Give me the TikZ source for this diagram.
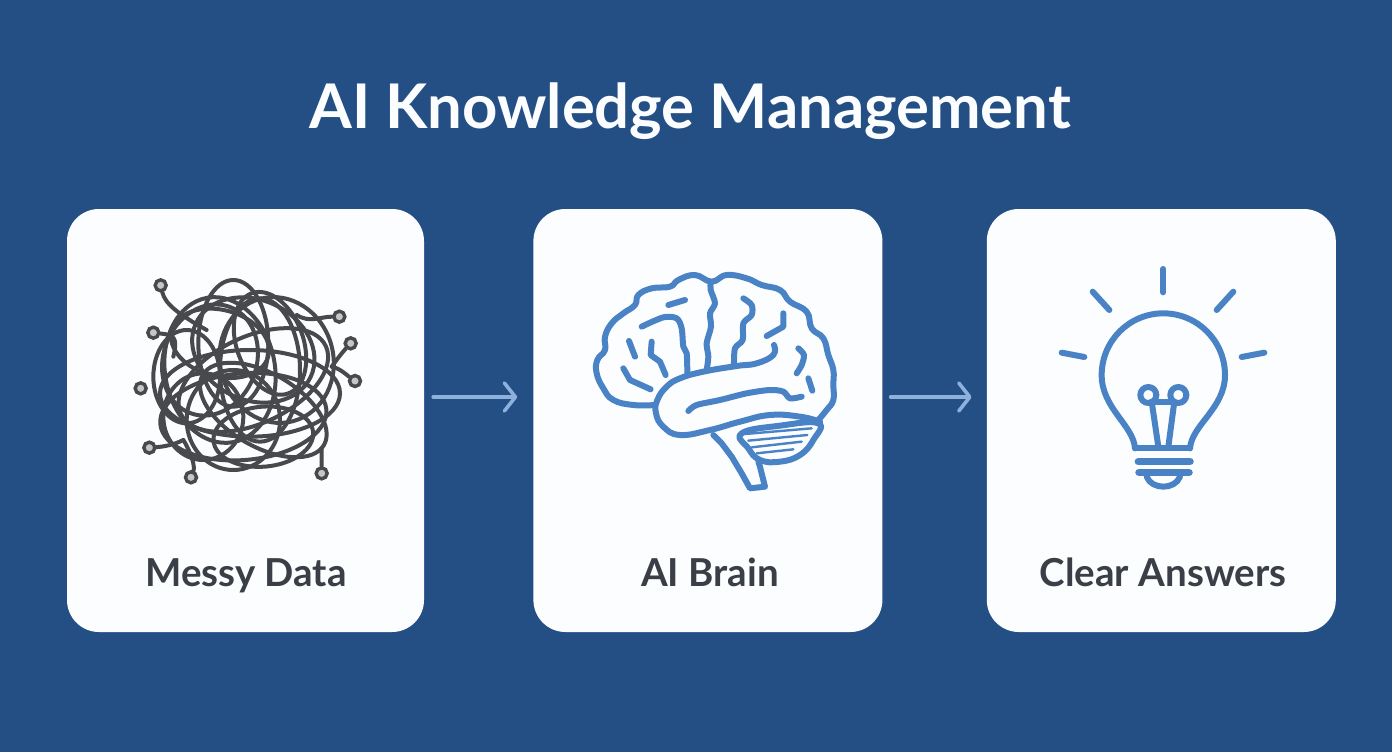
\documentclass[tikz,border=0pt]{standalone}
\usepackage{fontspec}
\setmainfont{Lato}
\usetikzlibrary{positioning}
\usetikzlibrary{arrows.meta}
\definecolor{bgblue}{HTML}{234F85}
\definecolor{cardwhite}{HTML}{FCFDFE}
\definecolor{iconblue}{HTML}{4A83C5}
\definecolor{flowblue}{HTML}{8DB0DC}
\definecolor{tangle}{HTML}{47494D}
\definecolor{inktext}{HTML}{3A3F47}
\tikzset{card/.style={rectangle,fill=cardwhite,rounded corners=32pt,minimum height=423pt,inner sep=0pt}}
\tikzset{cardtext/.style={font=\bfseries\fontsize{38.5}{42}\selectfont,text=inktext,inner sep=0pt,anchor=base}}
\tikzset{flow/.style={draw=flowblue,line width=3.6pt,line cap=round,-{Straight Barb[length=11pt,width=28pt,line width=3.6pt,round]}}}
\tikzset{brainline/.style={draw=iconblue,line width=6pt,line cap=round,line join=round}}
\tikzset{wire/.style={draw=tangle,line width=4pt,line cap=round}}
\tikzset{enddot/.style={circle,draw=tangle,fill=gray!45,line width=3.4pt,minimum size=11pt,inner sep=0pt}}

\begin{document}
\begin{tikzpicture}[x=1pt,y=-1pt]
        \useasboundingbox (0,0) rectangle (1392,752);
        \fill[bgblue] (0,0) rectangle (1392,752);

        \node[font=\bfseries\fontsize{61.6}{70}\selectfont,text=cardwhite,inner sep=0pt,anchor=base] (title) at (690,128) {AI Knowledge Management};

        \node[card,minimum width=357pt] (messycard) at (245.5,420.5) {};
        \node[card,minimum width=349pt,right=109pt of messycard] (braincard) {};
        \node[card,minimum width=349pt,right=104pt of braincard] (clearcard) {};

        \draw[flow,shorten <=9pt,shorten >=16pt] ([yshift=23.5pt]messycard.east) -- ([yshift=23.5pt]braincard.west);
        \draw[flow,shorten <=8pt,shorten >=15pt] ([yshift=23.5pt]braincard.east) -- ([yshift=23.5pt]clearcard.west);

        \node[cardtext] (messylabel) at (246,586) {Messy Data};
        \node[cardtext] (brainlabel) at (710,586) {AI Brain};
        \node[cardtext] (clearlabel) at (1163,586) {Clear Answers};

        \begin{scope}[shift={(120,260)},scale=1/3]
            \foreach \cx/\cy/\rx/\ry/\rot in {340/250/105/190/0,420/330/120/215/0,300/330/165/220/10,390/400/270/130/0,
                370/470/250/130/5,400/360/240/130/25,400/270/190/150/-25,
                430/450/210/110/-30,340/480/140/150/0,450/250/100/160/20,300/250/150/100/-15,
                270/300/140/170/-20,470/300/170/190/15,250/470/120/130/0,
                430/530/150/90/5,200/350/100/140/0}
                \draw[wire,rotate around={\rot:(\cx,\cy)}] (\cx,\cy) ellipse [x radius=\rx,y radius=\ry];
            \node[enddot] (d1) at (122,76) {};
            \node[enddot] (d2) at (100,218) {};
            \node[enddot] (d3) at (62,385) {};
            \node[enddot] (d4) at (88,563) {};
            \node[enddot] (d5) at (213,652) {};
            \node[enddot] (d6) at (605,640) {};
            \node[enddot] (d7) at (705,363) {};
            \node[enddot] (d8) at (692,250) {};
            \node[enddot] (d9) at (658,170) {};
            \draw[wire] (d1) .. controls (135,130) and (170,160) .. (260,210);
            \draw[wire] (d2) .. controls (160,225) and (175,230) .. (160,290);
            \draw[wire] (d4) .. controls (130,560) and (160,555) .. (190,540);
            \draw[wire] (d5) .. controls (225,620) and (215,580) .. (190,540);
            \draw[wire] (d6) -- (605,565);
            \draw[wire] (d7) .. controls (680,345) and (660,325) .. (635,320);
            \draw[wire] (d8) .. controls (660,285) and (650,300) .. (635,320);
            \draw[wire] (d9) .. controls (600,170) and (570,190) .. (530,165);
        \end{scope}

        \begin{scope}[shift={(580,260)},scale=1/3]
            \draw[brainline] plot[smooth,tension=0.75] coordinates {(225,435) (160,435) (100,420) (70,385) (50,340) (52,300) (75,270) (75,230) (95,190) (130,160) (165,135) (175,105) (215,85) (270,80) (295,60) (345,45) (395,65) (440,45) (500,55) (545,75) (600,90) (630,125) (680,155) (695,205) (730,235) (745,285) (760,330) (760,375) (760,420) (740,450) (715,480)};
            \draw[brainline] plot[smooth,tension=0.75] coordinates {(720,485) (660,470) (570,465) (480,485) (390,510) (300,525) (250,500) (228,460) (232,420) (260,380) (300,355) (370,335) (470,318) (530,310) (580,285) (582,255)};
            \draw[brainline] plot[smooth] coordinates {(392,70) (392,90) (405,130) (390,160) (393,200) (380,250) (385,290) (380,330)};
            \draw[brainline] plot[smooth] coordinates {(490,115) (515,135) (515,165) (490,190) (488,240) (465,265) (462,315)};
            \draw[brainline] (610,160) -- (610,200) -- (560,228);
            \draw[brainline] (265,135) -- (315,120);
            \draw[brainline] plot[smooth] coordinates {(185,200) (250,172) (290,175) (305,205) (310,260) (320,280) (322,340)};
            \draw[brainline] (147,243) -- (165,290);
            \draw[brainline] (215,245) -- (212,285) -- (240,305) -- (257,345);
            \draw[brainline] (130,325) -- (150,360) -- (212,388);
            \draw[brainline] plot[smooth] coordinates {(655,265) (672,285) (665,315) (650,340)};
            \draw[brainline] (685,355) -- (697,392);
            \draw[brainline] plot[smooth] coordinates {(325,453) (350,435) (420,420) (500,400) (570,390) (610,395) (630,415) (665,410)};
            \draw[brainline] plot[smooth cycle,tension=0.75] coordinates {(485,520) (600,497) (715,490) (700,540) (660,585) (600,605) (540,600) (505,565)};
            \draw[brainline,line width=2.4pt] (495,522) -- (695,505);
            \draw[brainline,line width=2.4pt] (505,542) -- (682,525);
            \draw[brainline,line width=2.4pt] (515,562) -- (665,545);
            \draw[brainline,line width=2.4pt] (530,580) -- (640,568);
            \draw[brainline] (400,525) -- (425,550) -- (455,590) -- (485,640) -- (510,685) -- (555,680) -- (540,620) -- (535,605);
        \end{scope}

        \begin{scope}[shift={(1040,255)},scale=1/3]
            \draw[brainline] (370,42) -- (370,112);
            \draw[brainline] (158,110) -- (208,165);
            \draw[brainline] (580,110) -- (530,165);
            \draw[brainline] (65,293) -- (133,306);
            \draw[brainline] (673,293) -- (605,306);
            \draw[brainline] (285,580) .. controls (280,510) and (185,460) .. (185,360) arc [start angle=180,end angle=360,radius=185] .. controls (555,460) and (455,510) .. (450,580);
            \draw[brainline] (285,580) -- (450,580);
            \draw[brainline,line width=7.5pt] (295,620) -- (450,620);
            \draw[brainline,line width=7.5pt] (297,652) -- (447,652);
            \draw[brainline] (320,665) .. controls (335,705) and (405,705) .. (420,665);
            \draw[brainline] (355,575) -- (335,440);
            \draw[brainline] (385,575) -- (403,440);
            \draw[brainline] (335,440) -- (403,440);
            \draw[brainline] (325,420) circle [radius=24];
            \draw[brainline] (415,420) circle [radius=24];
        \end{scope}
    \end{tikzpicture}
\end{document}
